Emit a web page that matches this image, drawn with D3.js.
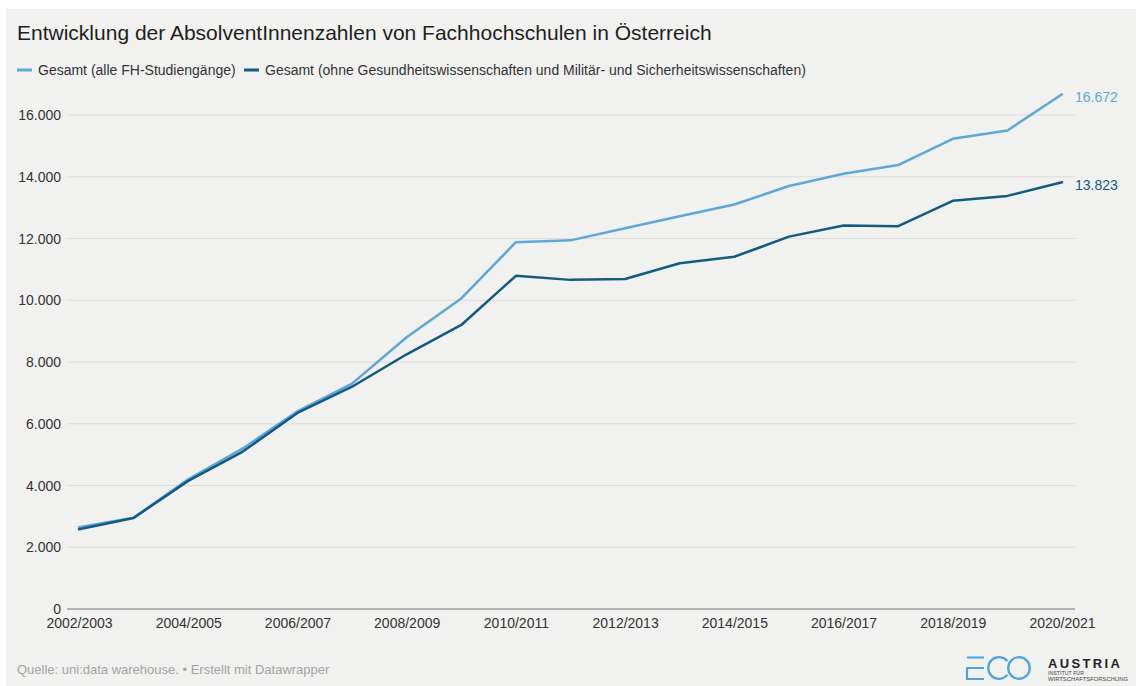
<!DOCTYPE html>
<html>

<head>
    <meta charset="utf-8">
    <title>FH AbsolventInnen</title>
    <script src="https://cdn.jsdelivr.net/npm/d3@7"></script>
    <style>
        body { margin: 0; background: #fff; }
        text { font-family: "Liberation Sans", Arial, sans-serif; }
    </style>
</head>

<body>
    <svg width="1136" height="686" id="mainsvg"></svg>
    <script>
        // data
        const seasons = ['2002/2003', '2003/2004', '2004/2005', '2005/2006', '2006/2007', '2007/2008',
            '2008/2009', '2009/2010', '2010/2011', '2011/2012', '2012/2013', '2013/2014', '2014/2015',
            '2015/2016', '2016/2017', '2017/2018', '2018/2019', '2019/2020', '2020/2021'];
        const allFH = [2650, 2960, 4200, 5200, 6400, 7300, 8800, 10060, 11880, 11940, 12330, 12720, 13100,
            13700, 14100, 14380, 15230, 15500, 16672];
        const withoutHealth = [2580, 2950, 4150, 5100, 6350, 7200, 8250, 9200, 10790, 10660, 10690, 11200,
            11410, 12060, 12420, 12400, 13220, 13380, 13823];
        const yTicks = [0, 2000, 4000, 6000, 8000, 10000, 12000, 14000, 16000];
        const seriesNames = ['Gesamt (alle FH-Studiengänge)',
            'Gesamt (ohne Gesundheitswissenschaften und Militär- und Sicherheitswissenschaften)'];
        const colors = ['#5fa6d4', '#135a7f'];

        const svg = d3.select('svg');
        const width = +svg.attr('width');
        const height = +svg.attr('height');

        const de = d3.formatLocale({ decimal: ',', thousands: '.', grouping: [3], currency: ['', '€'] });
        const fmt = de.format(',');

        svg.append('rect').attr('x', 6).attr('y', 9)
            .attr('width', width - 6).attr('height', height - 9).attr('fill', '#f1f1f0');

        // title + legend
        svg.append('text').attr('x', 17).attr('y', 40).attr('font-size', 21).attr('fill', '#1e1e1e')
            .text('Entwicklung der AbsolventInnenzahlen von Fachhochschulen in Österreich');

        const legendX = [17, 244];
        seriesNames.forEach((name, i) => {
            const g = svg.append('g').attr('transform', `translate(${legendX[i]}, 70)`);
            g.append('line').attr('x1', 0).attr('x2', 15).attr('stroke', colors[i]).attr('stroke-width', 3);
            g.append('text').attr('x', 21).attr('y', 5).attr('font-size', 14).attr('fill', '#333').text(name);
        });

        const margin = { top: 115, right: 74, bottom: 77, left: 79 };
        const xScale = d3.scalePoint().domain(seasons).range([margin.left, width - margin.right]);
        const yScale = d3.scaleLinear().domain([0, 16000]).range([height - margin.bottom, margin.top]);
        const gridX0 = 67, gridX1 = 1075;

        // grid
        svg.append('g').selectAll('line').data(yTicks.filter(d => d > 0)).join('line')
            .attr('x1', gridX0).attr('x2', gridX1)
            .attr('y1', d => yScale(d)).attr('y2', d => yScale(d))
            .attr('stroke', '#dcdcdb').attr('stroke-width', 1);

        // y labels
        svg.append('g').selectAll('text').data(yTicks).join('text')
            .attr('x', 61).attr('y', d => yScale(d) + 5)
            .attr('text-anchor', 'end').attr('font-size', 14).attr('fill', '#333')
            .text(d => fmt(d));

        // baseline
        svg.append('line').attr('x1', gridX0).attr('x2', gridX1)
            .attr('y1', yScale(0)).attr('y2', yScale(0))
            .attr('stroke', '#777').attr('stroke-width', 1.2);

        // x axis
        const xAxis = d3.axisBottom(xScale)
            .tickValues(seasons.filter((d, i) => i % 2 === 0))
            .tickSize(0).tickPadding(9);
        const xAxisGroup = svg.append('g')
            .attr('transform', `translate(0, ${yScale(0)})`).call(xAxis);
        xAxisGroup.select('.domain').remove();
        xAxisGroup.selectAll('text').attr('font-size', 14).attr('fill', '#333')
            .attr('font-family', '"Liberation Sans", Arial, sans-serif');

        // lines
        const line = d3.line().x((d, i) => xScale(seasons[i])).y(d => yScale(d));
        [allFH, withoutHealth].forEach((values, i) => {
            svg.append('path').datum(values).attr('d', line)
                .attr('fill', 'none').attr('stroke', colors[i]).attr('stroke-width', 2.5)
                .attr('stroke-linejoin', 'round').attr('stroke-linecap', 'round');
            const last = values[values.length - 1];
            svg.append('text').attr('x', xScale(seasons[seasons.length - 1]) + 13)
                .attr('y', yScale(last) + 7.5).attr('font-size', 14).attr('fill', colors[i])
                .text(fmt(last));
        });

        // footer
        svg.append('text').attr('x', 17).attr('y', 674).attr('font-size', 13).attr('fill', '#a3a3a3')
            .text('Quelle: uni:data warehouse. • Erstellt mit Datawrapper');

        // logo
        const logo = svg.append('g');
        const logoBlue = '#4ea3d4';
        logo.append('path').attr('d', 'M984,657.5 H967 M984,668 H967 V679 H984')
            .attr('fill', 'none').attr('stroke', logoBlue).attr('stroke-width', 2.2);
        logo.append('path')
            .attr('d', d3.arc()({ innerRadius: 9.7, outerRadius: 11.9, startAngle: Math.PI * 0.72, endAngle: Math.PI * 2.28 }))
            .attr('transform', 'translate(999, 668)')
            .attr('fill', logoBlue);
        logo.append('circle').attr('cx', 1019).attr('cy', 668).attr('r', 10.8)
            .attr('fill', 'none').attr('stroke', logoBlue).attr('stroke-width', 2.2);
        logo.append('text').attr('x', 1048).attr('y', 668).attr('font-size', 13)
            .attr('font-weight', 'bold').attr('textLength', 72).attr('lengthAdjust', 'spacing')
            .attr('fill', '#222').text('AUSTRIA');
        logo.append('text').attr('x', 1048).attr('y', 674.5).attr('font-size', 5.5)
            .attr('textLength', 36).attr('lengthAdjust', 'spacingAndGlyphs').attr('fill', '#444').text('INSTITUT FÜR');
        logo.append('text').attr('x', 1048).attr('y', 680.5).attr('font-size', 5.5)
            .attr('textLength', 80).attr('lengthAdjust', 'spacingAndGlyphs').attr('fill', '#444').text('WIRTSCHAFTSFORSCHUNG');
    </script>
</body>

</html>
